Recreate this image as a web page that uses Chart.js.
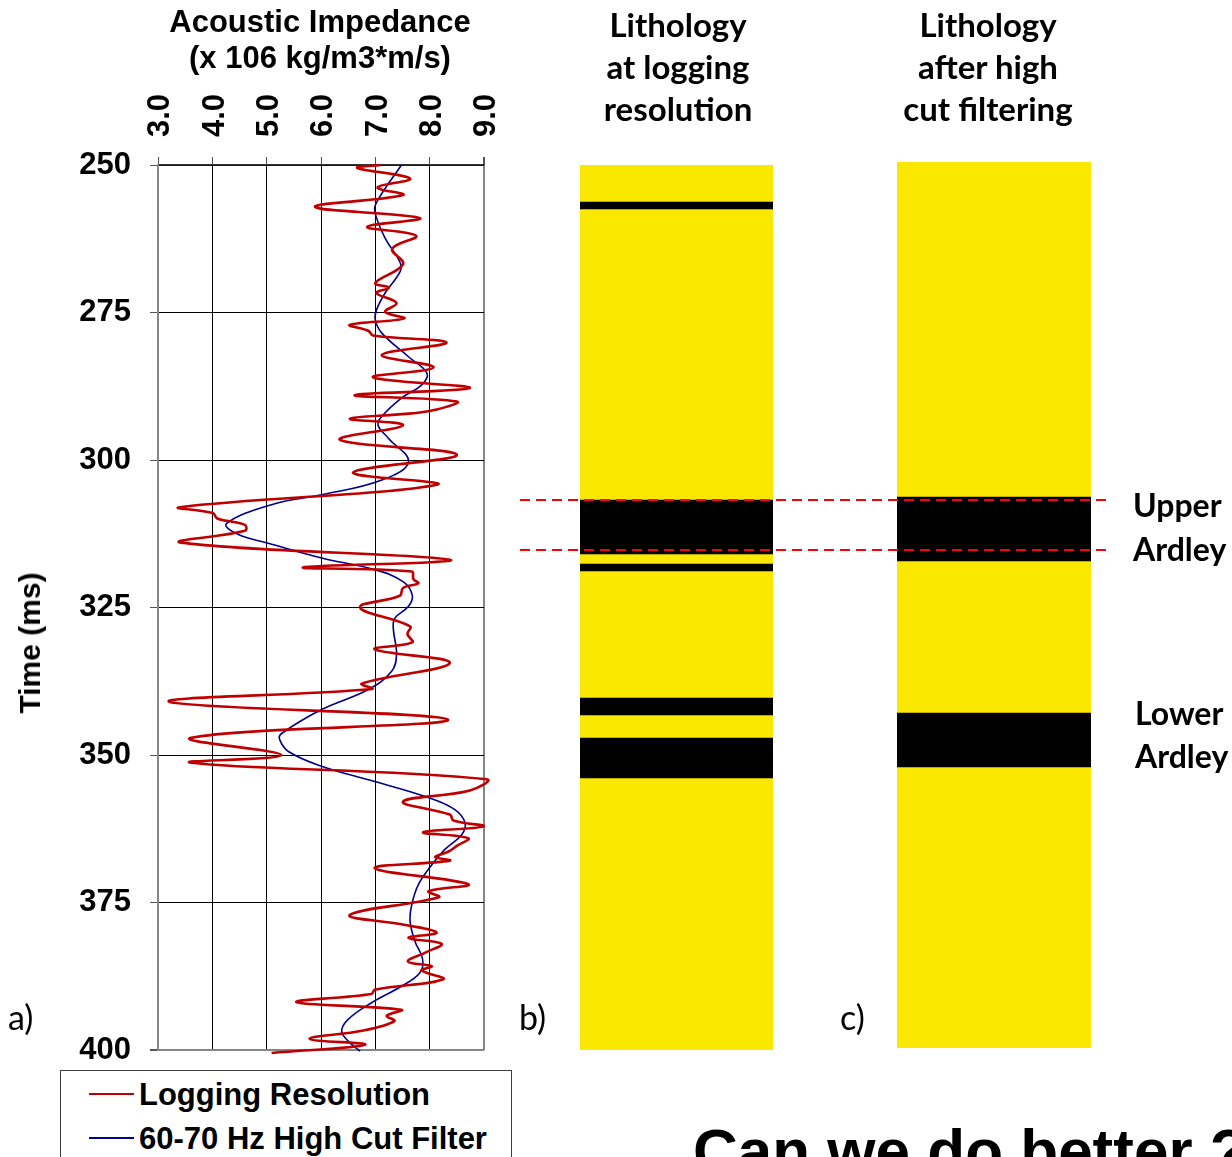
<!DOCTYPE html>
<html>
<head>
<meta charset="utf-8">
<script src="https://cdn.jsdelivr.net/npm/chart.js@4.4.1/dist/chart.umd.min.js"></script>
<style>
  html, body { margin: 0; padding: 0; background: #fff; }
  body { width: 1232px; height: 1157px; position: relative; overflow: hidden; }
  canvas { position: absolute; }
  .txt { position: absolute; white-space: nowrap; color: #000; z-index: 5; }
  .arial { font-family: 'Liberation Sans', Arial, sans-serif; font-weight: bold; }
  .lato { font-family: Lato, 'Open Sans', sans-serif; }
  .center { text-align: center; }
  .legend { position: absolute; left: 60px; top: 1070px; width: 450px; height: 120px;
            border: 1px solid #404040; background: #fff; z-index: 4; }
  .swatch { position: absolute; left: 28px; width: 45px; }
</style>
</head>
<body>

<canvas id="impedance" width="520" height="1157" style="left:0;top:0;z-index:1"></canvas>
<canvas id="lithoFiltered" width="194" height="886" style="left:897px;top:162px;z-index:2"></canvas>
<canvas id="lithoLogging" width="732" height="1157" style="left:500px;top:0;z-index:3"></canvas>

<!-- Titles -->
<div class="txt arial center" style="left:120px;width:400px;top:6px;font-size:31px;line-height:31px;">Acoustic Impedance</div>
<div class="txt arial center" style="left:120px;width:400px;top:42px;font-size:31px;line-height:31px;">(x 106 kg/m3*m/s)</div>

<div class="txt lato center" style="left:528px;width:300px;top:3px;font-size:33px;line-height:42px;font-weight:bold;">Lithology<br>at logging<br>resolution</div>
<div class="txt lato center" style="left:838px;width:300px;top:3px;font-size:33px;line-height:42px;font-weight:bold;">Lithology<br>after high<br>cut filtering</div>

<div class="txt arial" style="left:30px;top:643px;font-size:30px;line-height:30px;transform:translate(-50%,-50%) rotate(-90deg);">Time (ms)</div>

<div class="txt lato" style="left:1133px;top:483px;font-size:32px;line-height:44px;font-weight:bold;">Upper<br>Ardley</div>
<div class="txt lato" style="left:1135px;top:691px;font-size:32px;line-height:43px;font-weight:bold;">Lower<br>Ardley</div>

<div class="txt lato" style="left:8px;top:1000px;font-size:34px;line-height:34px;">a)</div>
<div class="txt lato" style="left:519px;top:1000px;font-size:34px;line-height:34px;">b)</div>
<div class="txt lato" style="left:840px;top:1000px;font-size:34px;line-height:34px;">c)</div>

<div class="legend">
  <div class="swatch" style="top:22px;height:2px;background:#c00000;"></div>
  <div class="txt arial" style="left:78px;top:8px;font-size:31px;line-height:31px;">Logging Resolution</div>
  <div class="swatch" style="top:66px;height:1.5px;background:#00008b;"></div>
  <div class="txt arial" style="left:78px;top:52px;font-size:31px;line-height:31px;">60-70 Hz High Cut Filter</div>
</div>

<div class="txt arial" style="left:693px;top:1120px;font-size:62px;line-height:62px;">Can we do better ?</div>

<script>
// Axis ticks
const impedanceTicks = [3, 4, 5, 6, 7, 8, 9];
const timeTicks = [250, 275, 300, 325, 350, 375, 400];

// Acoustic impedance at logging resolution (time in ms, impedance in 10^6 kg/m3*m/s)
const loggingTime = [250.0, 250.5, 252.3, 253.8, 255.1, 257.1, 259.0, 260.5, 262.0, 264.2,
  266.8, 270.0, 270.8, 271.7, 273.4, 274.9, 276.0, 277.1, 278.1, 278.9,
  280.1, 282.2, 284.3, 286.0, 287.8, 289.0, 290.1, 291.5, 292.1, 293.0,
  294.1, 296.6, 299.1, 302.1, 304.2, 308.0, 309.0, 309.9, 311.0, 312.0,
  314.0, 316.9, 318.2, 318.9, 320.2, 320.9, 321.7, 323.0, 325.0, 328.2,
  329.5, 330.9, 332.1, 334.4, 337.9, 338.8, 341.0, 344.0, 347.1, 350.0,
  351.3, 354.1, 356.0, 357.9, 360.1, 361.1, 362.1, 363.1, 364.1, 365.4,
  366.4, 367.3, 367.9, 369.2, 371.9, 373.1, 374.1, 377.1, 378.8, 380.1,
  381.0, 382.0, 383.4, 385.0, 385.8, 386.5, 388.0, 389.8, 390.5, 391.9,
  393.2, 394.2, 395.1, 396.7, 398.1, 399.1, 400.5];
const loggingImpedance = [7.10, 6.67, 7.64, 7.04, 7.51, 5.89, 7.82, 6.85, 7.75, 7.31,
  7.51, 7.00, 7.25, 7.02, 7.39, 7.18, 7.53, 6.53, 6.87, 6.96,
  8.31, 7.12, 8.07, 6.96, 8.74, 6.62, 8.50, 8.10, 7.67, 6.53,
  7.51, 6.35, 8.50, 6.59, 8.13, 3.40, 4.01, 4.09, 4.60, 4.60,
  3.43, 8.37, 5.67, 7.67, 7.70, 7.79, 7.51, 7.45, 6.72, 7.64,
  7.59, 7.68, 6.99, 8.37, 6.75, 6.94, 3.21, 8.34, 3.61, 5.27,
  3.61, 9.05, 8.74, 7.51, 8.37, 8.44, 8.99, 7.88, 8.71, 8.50,
  8.34, 8.10, 8.37, 6.99, 8.71, 7.98, 8.17, 6.53, 7.55, 8.13,
  7.61, 8.22, 7.94, 7.60, 8.04, 7.85, 8.25, 6.99, 6.93, 5.55,
  7.48, 7.21, 7.35, 6.78, 5.79, 6.81, 5.09];

// Same log after the 60-70 Hz high cut filter
const filteredTime = [250.0, 256.2, 257.9, 262.4, 266.4, 268.0, 271.7, 274.6, 276.3, 278.5,
  282.5, 285.3, 287.3, 289.5, 292.6, 294.1, 296.3, 300.3, 303.4, 305.9,
  307.4, 310.8, 312.6, 314.1, 316.6, 318.6, 320.6, 322.9, 324.8, 326.8,
  328.5, 333.0, 335.8, 338.9, 342.3, 346.4, 347.4, 349.4, 351.9, 354.5,
  357.3, 359.3, 361.5, 363.5, 366.0, 368.6, 372.0, 375.4, 378.2, 381.6,
  384.6, 386.9, 389.2, 392.0, 394.8, 396.8, 398.5, 400.2];
const filteredImpedance = [7.48, 7.03, 6.99, 7.18, 7.45, 7.46, 7.18, 7.02, 7.00, 7.12,
  7.61, 7.95, 7.85, 7.48, 7.12, 7.05, 7.24, 7.61, 7.12, 6.01,
  5.15, 4.26, 4.47, 5.03, 6.01, 6.99, 7.51, 7.68, 7.61, 7.36,
  7.33, 7.39, 7.30, 6.87, 6.01, 5.27, 5.24, 5.40, 6.01, 6.99,
  8.00, 8.47, 8.65, 8.59, 8.28, 8.04, 7.79, 7.67, 7.64, 7.73,
  7.87, 7.82, 7.48, 6.93, 6.50, 6.38, 6.50, 6.72];

// Lithology columns: [top, base] of each black (shale) band, in ms
const lithoColumnRange = [250, 400];
const loggingBands = [[256.27, 257.46], [306.78, 315.93], [317.63, 318.81], [340.34, 343.22], [347.12, 353.9]];
const filteredBands = [[306.71, 317.55], [343.28, 352.42]];

// Upper Ardley top and base markers
const ardleyMarkers = [306.83, 315.31];

const AXIS_FONT = { family: "'Liberation Sans', Arial, sans-serif", size: 31, weight: 'bold' };
const FRAME = '#868686';

const toPoints = (times, values) => times.map((t, i) => ({ x: values[i], y: t }));

new Chart(document.getElementById('impedance'), {
  type: 'scatter',
  data: {
    datasets: [
      {
        label: 'Logging Resolution',
        data: toPoints(loggingTime, loggingImpedance),
        showLine: true,
        borderColor: '#c00000',
        borderWidth: 2.6,
        pointRadius: 0,
        tension: 0.4,
        clip: false
      },
      {
        label: '60-70 Hz High Cut Filter',
        data: toPoints(filteredTime, filteredImpedance),
        showLine: true,
        borderColor: '#00008b',
        borderWidth: 1.6,
        pointRadius: 0,
        tension: 0.4,
        clip: false
      }
    ]
  },
  options: {
    responsive: false,
    animation: false,
    events: [],
    layout: { padding: { left: 0, top: 0, right: 36, bottom: 107 } },
    elements: { line: { capBezierPoints: false } },
    plugins: { legend: { display: false }, tooltip: { enabled: false } },
    scales: {
      x: {
        type: 'linear',
        position: 'top',
        min: 3, max: 9,
        afterFit: s => { s.height = 165; },
        afterBuildTicks: s => { s.ticks = impedanceTicks.map(v => ({ value: v })); },
        ticks: {
          minRotation: 90, maxRotation: 90,
          autoSkip: false,
          padding: 20,
          labelOffset: 40,
          color: '#000',
          font: AXIS_FONT,
          callback: v => Number(v).toFixed(1)
        },
        grid: {
          color: c => (c.tick && c.tick.value === 9) ? FRAME : '#000',
          lineWidth: c => (c.tick && c.tick.value === 9) ? 2 : 1,
          tickLength: 8,
          tickColor: '#555'
        },
        border: { color: '#333', width: 1.5 }
      },
      y: {
        type: 'linear',
        reverse: true,
        min: 250, max: 400,
        afterFit: s => { s.width = 158; },
        afterBuildTicks: s => { s.ticks = timeTicks.map(v => ({ value: v })); },
        ticks: {
          padding: 19,
          color: '#000',
          font: AXIS_FONT,
          callback: v => String(v)
        },
        grid: {
          color: c => (c.tick && c.tick.value === 400) ? FRAME : '#000',
          lineWidth: c => (c.tick && c.tick.value === 400) ? 2 : 1,
          tickLength: 8,
          tickColor: '#555'
        },
        border: { color: FRAME, width: 2 }
      }
    }
  }
});

// Lithology column: yellow background with black bands, all on a shared time scale
function lithoDatasets(bands) {
  const common = { grouped: false, barPercentage: 1, categoryPercentage: 1, borderWidth: 0 };
  const sets = bands.map(b => Object.assign({ data: [b], backgroundColor: '#000000', order: 0 }, common));
  sets.push(Object.assign({ data: [lithoColumnRange], backgroundColor: '#fae800', order: 1 }, common));
  return sets;
}

function lithoOptions(padding) {
  return {
    responsive: false,
    animation: false,
    events: [],
    layout: { padding },
    plugins: { legend: { display: false }, tooltip: { enabled: false } },
    scales: {
      x: { display: false },
      y: { display: false, min: 250, max: 400, reverse: true }
    }
  };
}

const markerLines = {
  id: 'markerLines',
  afterDatasetsDraw(chart) {
    const { ctx, scales: { y } } = chart;
    ctx.save();
    ctx.strokeStyle = '#ff0000';
    ctx.lineWidth = 2;
    ctx.setLineDash([10, 6]);
    ardleyMarkers.forEach(t => {
      const py = Math.round(y.getPixelForValue(t));
      ctx.beginPath();
      ctx.moveTo(20, py);
      ctx.lineTo(610, py);
      ctx.stroke();
    });
    ctx.restore();
  }
};

new Chart(document.getElementById('lithoFiltered'), {
  type: 'bar',
  data: { labels: ['c'], datasets: lithoDatasets(filteredBands) },
  options: lithoOptions({ left: 0, right: 0, top: 0, bottom: 0 })
});

new Chart(document.getElementById('lithoLogging'), {
  type: 'bar',
  data: { labels: ['b'], datasets: lithoDatasets(loggingBands) },
  options: lithoOptions({ left: 80, right: 459, top: 165, bottom: 107 }),
  plugins: [markerLines]
});
</script>
</body>
</html>
